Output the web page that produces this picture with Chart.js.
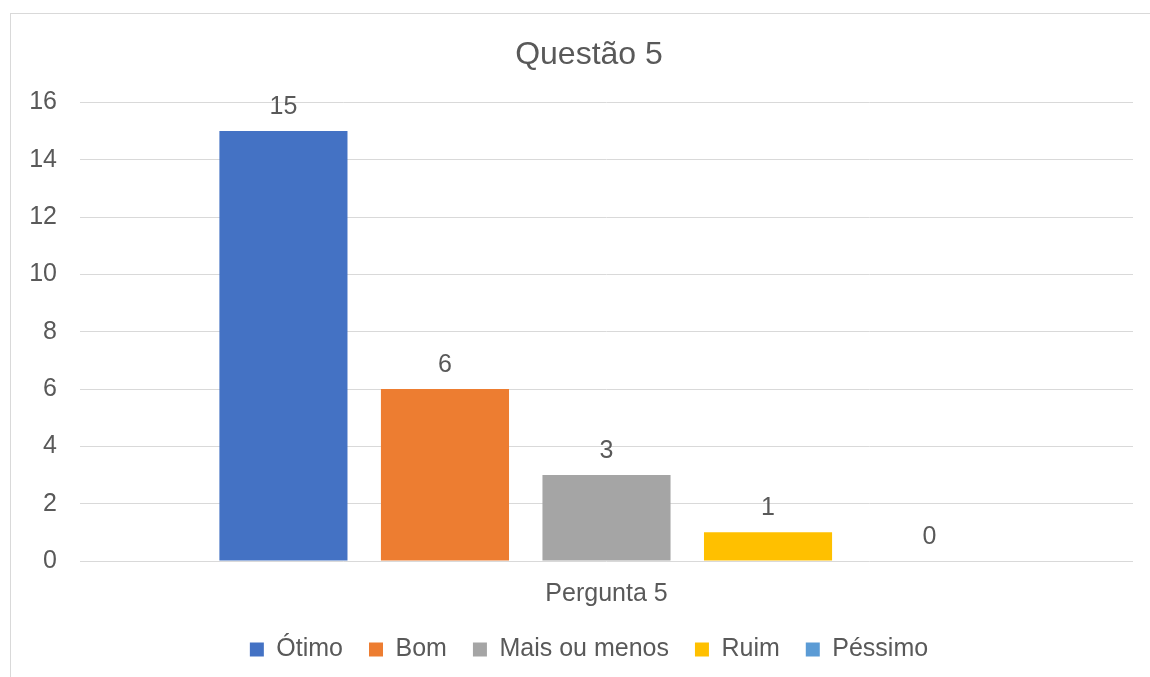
<!DOCTYPE html>
<html>
<head>
<meta charset="utf-8">
<script src="https://cdn.jsdelivr.net/npm/chart.js@4/dist/chart.umd.min.js"></script>
<style>
  html, body { margin: 0; padding: 0; background: #fff; overflow: hidden; }
  #frame {
    position: absolute; left: 10px; top: 13px;
    width: 1156px; height: 663px;
    border-top: 1px solid #d9d9d9; border-left: 1px solid #d9d9d9;
  }
</style>
</head>
<body>
<div id="frame"><canvas id="chart" width="1156" height="663"></canvas></div>
<script>
// data
const categories = ['Pergunta 5'];
const seriesNames = ['Ótimo', 'Bom', 'Mais ou menos', 'Ruim', 'Péssimo'];
const seriesValues = [15, 6, 3, 1, 0];
const seriesColors = ['#4472C4', '#ED7D31', '#A5A5A5', '#FFC000', '#5B9BD5'];
const yTicks = [0, 2, 4, 6, 8, 10, 12, 14, 16];

const textColor = '#595959';
Chart.defaults.font.family = '"Liberation Sans", Arial, sans-serif';
Chart.defaults.color = textColor;

/* value labels above each bar */
const valueLabels = {
    id: 'valueLabels',
    afterDatasetsDraw(chart) {
        const ctx = chart.ctx;
        ctx.save();
        ctx.font = '25px "Liberation Sans", Arial, sans-serif';
        ctx.fillStyle = textColor;
        ctx.textAlign = 'center';
        ctx.textBaseline = 'middle';
        chart.data.datasets.forEach((ds, i) => {
            chart.getDatasetMeta(i).data.forEach((bar, j) => {
                ctx.fillText(String(ds.data[j]), bar.x, bar.y - 24);
            });
        });
        ctx.restore();
    }
};

new Chart(document.getElementById('chart'), {
    type: 'bar',
    data: {
        labels: categories,
        datasets: seriesNames.map((name, i) => ({
            label: name,
            data: [seriesValues[i]],
            backgroundColor: seriesColors[i],
            borderWidth: 0,
            categoryPercentage: 0.767,
            barPercentage: 0.793
        }))
    },
    options: {
        responsive: false,
        animation: false,
        layout: { padding: { left: 0, right: 0, top: 0, bottom: 5 } },
        scales: {
            x: {
                grid: { display: false },
                border: { display: false },
                ticks: { color: textColor, font: { size: 25 }, padding: 10 },
                afterFit(scale) { scale.height = 50; }
            },
            y: {
                min: 0,
                max: 16,
                afterBuildTicks(scale) { scale.ticks = yTicks.map(v => ({ value: v })); },
                grid: { color: '#d9d9d9', drawTicks: false },
                border: { display: false },
                ticks: { color: textColor, font: { size: 25 }, padding: 23 },
                afterFit(scale) { scale.width = 69; }
            },
            // empty right-hand gutter so the title and legend stay centred on the frame
            gutter: {
                type: 'linear',
                position: 'right',
                grid: { display: false },
                border: { display: false },
                ticks: { display: false },
                afterFit(scale) { scale.width = 34; }
            }
        },
        plugins: {
            title: {
                display: true,
                text: 'Questão 5',
                color: textColor,
                font: { size: 32, weight: 'normal' },
                padding: { top: 22, bottom: 28 }
            },
            legend: {
                position: 'bottom',
                labels: {
                    color: textColor,
                    font: { size: 25 },
                    boxWidth: 14,
                    boxHeight: 14,
                    padding: 26
                }
            },
            tooltip: { enabled: false }
        }
    },
    plugins: [valueLabels]
});
</script>
</body>
</html>
